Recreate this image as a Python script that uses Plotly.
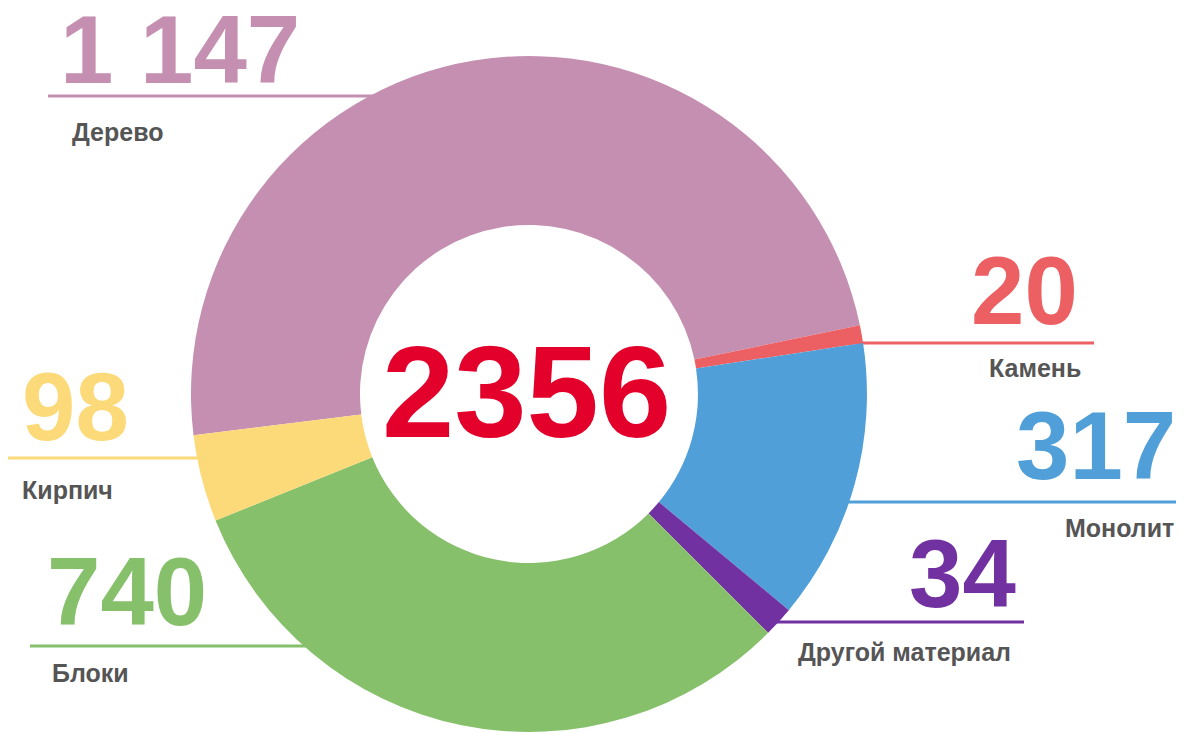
import plotly.graph_objects as go

categories = ["Дерево", "Камень", "Монолит", "Другой материал", "Блоки", "Кирпич"]
values = [1147, 20, 317, 34, 740, 98]
value_labels = ["1 147", "20", "317", "34", "740", "98"]
colors = ["#C48FB0", "#EC6063", "#519FD8", "#7131A1", "#87C06B", "#FCDA79"]
total_label = "2356"

# the page body adds an 8px margin, so the figure is drawn at (8, 8)
OFF = 8
W, H = 1184 - OFF, 732 - OFF

# label layout in page pixels: number centre y, line y, line x range, caption position
label_layout = {
    "Дерево":          dict(side="left",  x=58,   num_y=49,  line_y=96,  lx=(48, 400),   cap_x=70,   cap_y=132),
    "Камень":          dict(side="right", x=1080, num_y=290, line_y=343, lx=(840, 1094), cap_x=1083, cap_y=368),
    "Монолит":         dict(side="right", x=1178, num_y=446, line_y=502, lx=(820, 1190), cap_x=1176, cap_y=528),
    "Другой материал": dict(side="right", x=1018, num_y=573, line_y=622, lx=(760, 1024), cap_x=1013, cap_y=652),
    "Блоки":           dict(side="left",  x=45,   num_y=591, line_y=646, lx=(30, 330),   cap_x=50,   cap_y=673),
    "Кирпич":          dict(side="left",  x=20,   num_y=407, line_y=458, lx=(0, 220),    cap_x=20,   cap_y=490),
}

fig = go.Figure()
fig.add_trace(go.Pie(
    labels=categories,
    values=values,
    marker=dict(colors=colors, line=dict(width=0)),
    hole=0.5,
    sort=False,
    direction="clockwise",
    rotation=-97,
    textinfo="none",
    hoverinfo="label+value",
    showlegend=False,
    domain=dict(x=[0.1556, 0.7304], y=[0.0, 0.9337]),
))

def px(x):
    return (x - OFF) / W

def py(y):
    return 1 - (y - OFF) / H

shapes = []
annotations = []
for cat, val_txt, col in zip(categories, value_labels, colors):
    L = label_layout[cat]
    shapes.append(dict(type="line", xref="paper", yref="paper", layer="below",
                       x0=px(L["lx"][0]), x1=px(L["lx"][1]),
                       y0=py(L["line_y"]), y1=py(L["line_y"]),
                       line=dict(color=col, width=3)))
    anchor = "left" if L["side"] == "left" else "right"
    annotations.append(dict(text=val_txt, xref="paper", yref="paper",
                            x=px(L["x"]), y=py(L["num_y"]), xanchor=anchor, yanchor="middle",
                            showarrow=False,
                            font=dict(family="Liberation Sans", size=96, color=col, weight="bold")))
    annotations.append(dict(text=cat, xref="paper", yref="paper",
                            x=px(L["cap_x"]), y=py(L["cap_y"]), xanchor=anchor, yanchor="middle",
                            showarrow=False,
                            font=dict(family="Liberation Sans", size=25, color="#555555", weight="bold")))

annotations.append(dict(text=total_label, xref="paper", yref="paper",
                        x=px(526), y=py(392), xanchor="center", yanchor="middle",
                        showarrow=False,
                        font=dict(family="Liberation Sans", size=130, color="#E3002B", weight="bold")))

fig.update_layout(
    width=W, height=H,
    margin=dict(l=0, r=0, t=0, b=0),
    paper_bgcolor="white",
    plot_bgcolor="white",
    shapes=shapes,
    annotations=annotations,
)

fig.write_html("out.html")
